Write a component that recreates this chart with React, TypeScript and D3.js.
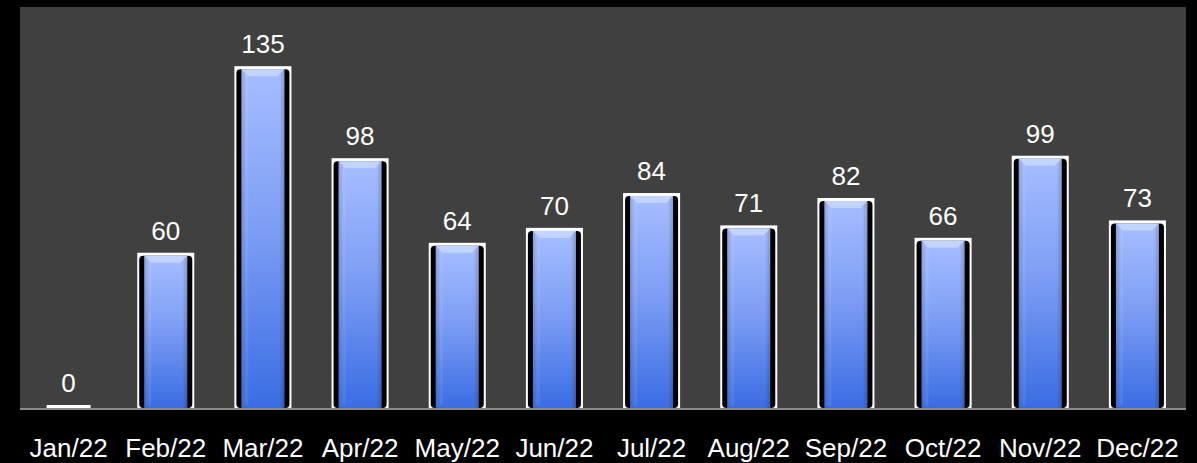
import React from 'react';
import * as d3 from 'd3';

const months = ['Jan/22', 'Feb/22', 'Mar/22', 'Apr/22', 'May/22', 'Jun/22', 'Jul/22', 'Aug/22', 'Sep/22', 'Oct/22', 'Nov/22', 'Dec/22'];
const counts = [0, 60, 135, 98, 64, 70, 84, 71, 82, 66, 99, 73];

const W = 1197;
const H = 463;
const plot = { left: 20, right: 1186, top: 7, base: 408 };

export default function App() {
  const x = d3.scaleBand<string>()
    .domain(months)
    .range([plot.left, plot.right])
    .paddingInner(0.413)
    .paddingOuter(0.2065);

  const y = d3.scaleLinear().domain([0, 160]).range([402, 4]);
  const bw = x.bandwidth();

  return (
    <div style={{ position: 'fixed', left: 0, top: 0 }}>
      <svg width={W} height={H} style={{ display: 'block', fontFamily: '"Liberation Sans", Arial, sans-serif' }}>
        <defs>
          <linearGradient id="blueV" x1="0" y1="0" x2="0" y2="1">
            <stop offset="0%" stopColor="#a6bdff" />
            <stop offset="45%" stopColor="#7f9ff5" />
            <stop offset="100%" stopColor="#3a6de3" />
          </linearGradient>
          <linearGradient id="shadeH" x1="0" y1="0" x2="1" y2="0">
            <stop offset="0%" stopColor="#000" stopOpacity={0.18} />
            <stop offset="12%" stopColor="#000" stopOpacity={0} />
            <stop offset="88%" stopColor="#000" stopOpacity={0} />
            <stop offset="100%" stopColor="#000" stopOpacity={0.18} />
          </linearGradient>
        </defs>

        <rect x={0} y={0} width={W} height={H} fill="#000" />
        <rect x={plot.left} y={plot.top} width={plot.right - plot.left} height={plot.base - plot.top} fill="#404040" />

        {counts.map((v, i) => {
          const cx = (x(months[i]) ?? 0) + bw / 2;
          if (v === 0) {
            return <rect key={i} x={cx - 22} y={405} width={44} height={3} fill="#fff" />;
          }
          const top = y(v);
          const x0 = cx - bw / 2;
          const h = plot.base - top;
          const bx = x0 + 7;
          const bwIn = bw - 14;
          const by = top + 3;
          const bev = 7;
          return (
            <g key={i}>
              <rect x={x0} y={top} width={bw} height={h} fill="#fff" />
              <rect x={x0 + 2} y={top + 3} width={bw - 4} height={h - 3} rx={4} fill="#000" />
              <rect x={bx} y={by} width={bwIn} height={plot.base - by} fill="url(#blueV)" />
              <rect x={bx} y={by} width={bwIn} height={plot.base - by} fill="url(#shadeH)" />
              <polygon
                points={`${bx},${by} ${bx + bwIn},${by} ${bx + bwIn - bev},${by + bev} ${bx + bev},${by + bev}`}
                fill="#cbd9ff"
                opacity={0.8}
              />
              <polygon
                points={`${bx},${by} ${bx + bev},${by + bev} ${bx + bev},${plot.base - 3} ${bx},${plot.base}`}
                fill="#ffffff"
                opacity={0.08}
              />
            </g>
          );
        })}

        <rect x={plot.left} y={plot.base} width={plot.right - plot.left} height={2} fill="#8a8a8a" />

        {counts.map((v, i) => (
          <text
            key={`v${i}`}
            x={(x(months[i]) ?? 0) + bw / 2}
            y={(v === 0 ? 405 : y(v)) - 13}
            textAnchor="middle"
            fontSize={26}
            fill="#fff"
          >
            {v}
          </text>
        ))}

        {months.map((m) => (
          <text
            key={m}
            x={(x(m) ?? 0) + bw / 2}
            y={456.5}
            textAnchor="middle"
            fontSize={26}
            fill="#fff"
          >
            {m}
          </text>
        ))}
      </svg>
    </div>
  );
}
